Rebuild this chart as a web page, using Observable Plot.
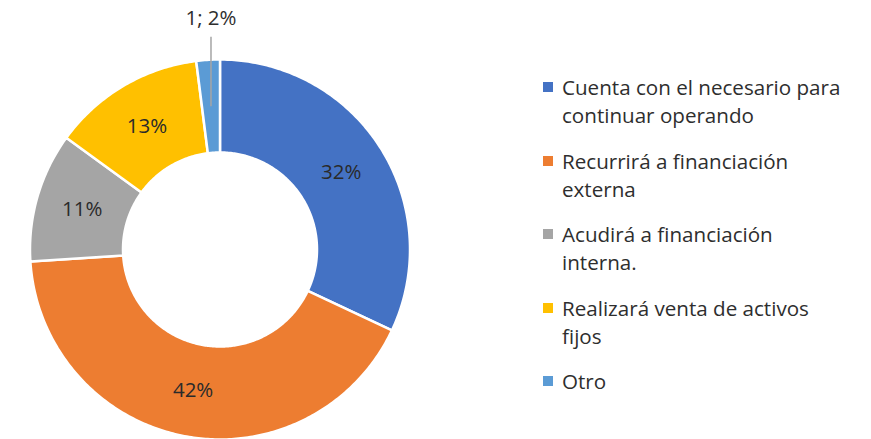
<!DOCTYPE html>
<html><head><meta charset="utf-8">
<script src="https://cdn.jsdelivr.net/npm/d3@7"></script>
<script src="https://cdn.jsdelivr.net/npm/@observablehq/plot@0.6"></script>
<style>
body{margin:0;background:#fff;font-family:"Open Sans",sans-serif;}
#wrap{position:relative;width:871px;height:439px;overflow:hidden;}
#chart{position:absolute;left:0;top:0;}
#legend{position:absolute;left:543px;top:73px;width:302px;color:#2e2e2e;font-size:20.6px;line-height:28px;}
.item{position:relative;padding-left:19px;margin-bottom:17.5px;}
.sw{position:absolute;left:0;top:9px;width:10px;height:10px;}
</style></head>
<body><div id="wrap"><div id="chart"></div><div id="legend"></div></div>
<script>
const categories = [
  "Cuenta con el necesario para continuar operando",
  "Recurrirá a financiación externa",
  "Acudirá a financiación interna.",
  "Realizará venta de activos fijos",
  "Otro"
];
const percents = [32, 42, 11, 13, 2];
const labels = ["32%", "42%", "11%", "13%", "1; 2%"];
const colors = ["#4472C4", "#ED7D31", "#A5A5A5", "#FFC000", "#5B9BD5"];
const outsideLabel = [false, false, false, false, true];

const innerR = 97 / 190, outerR = 1;
const arcs = d3.pie().sort(null).value(d => d)(percents);

const pts = [];
arcs.forEach((a, i) => {
  const n = Math.max(4, Math.ceil((a.endAngle - a.startAngle) * 80));
  for (let k = 0; k <= n; k++) {
    const t = a.startAngle + (a.endAngle - a.startAngle) * k / n;
    pts.push({cat: categories[i], x: Math.sin(t) * outerR, y: Math.cos(t) * outerR});
  }
  for (let k = n; k >= 0; k--) {
    const t = a.startAngle + (a.endAngle - a.startAngle) * k / n;
    pts.push({cat: categories[i], x: Math.sin(t) * innerR, y: Math.cos(t) * innerR});
  }
});

const mid = (innerR + outerR) / 2;
const labelData = arcs.map((a, i) => {
  const t = (a.startAngle + a.endAngle) / 2;
  const cx = Math.sin(t) * mid, cy = Math.cos(t) * mid;
  return {cx, cy, label: labels[i], outside: outsideLabel[i],
          lx: cx, ly: outsideLabel[i] ? outerR + 0.215 : cy};
});
const inside = labelData.filter(d => !d.outside);
const outside = labelData.filter(d => d.outside);

const chart = Plot.plot({
  width: 530, height: 439,
  marginTop: 0, marginBottom: 0, marginLeft: 0, marginRight: 0,
  x: {domain: [-1, 1], range: [29.5, 409.5], axis: null},
  y: {domain: [-1, 1], range: [439, 59], axis: null},
  color: {domain: categories, range: colors},
  style: {fontFamily: "Open Sans", overflow: "visible", background: "transparent"},
  marks: [
    Plot.line(pts, {x: "x", y: "y", z: "cat", fill: "cat", stroke: "white", strokeWidth: 2.5, curve: "linear-closed"}),
    Plot.link(outside, {x1: "cx", y1: "cy", x2: "lx", y2: d => d.ly - 0.095, stroke: "#A5A5A5", strokeWidth: 1.5}),
    Plot.text(inside, {x: "lx", y: "ly", text: "label", fill: "#2a2a2a", fontSize: 20.5}),
    Plot.text(outside, {x: "lx", y: "ly", text: "label", fill: "#2e2e2e", fontSize: 20.5})
  ]
});
document.getElementById("chart").appendChild(chart);

const legend = document.getElementById("legend");
categories.forEach((c, i) => {
  const it = document.createElement("div");
  it.className = "item";
  const sw = document.createElement("span");
  sw.className = "sw";
  sw.style.background = colors[i];
  it.appendChild(sw);
  it.appendChild(document.createTextNode(c));
  legend.appendChild(it);
});
</script>
</body></html>
